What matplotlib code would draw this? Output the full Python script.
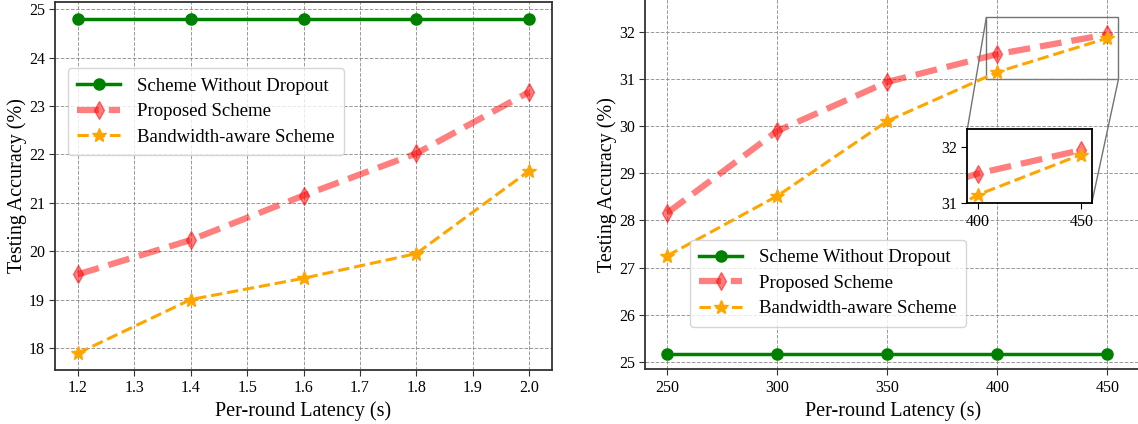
import numpy as np
import matplotlib
matplotlib.use("Agg")
import matplotlib.pyplot as plt
from mpl_toolkits.axes_grid1.inset_locator import mark_inset

plt.rcParams['font.family'] = ['Liberation Serif', 'DejaVu Serif']
plt.rcParams['mathtext.fontset'] = 'stix'

# left panel data
lat_left = [1.2, 1.4, 1.6, 1.8, 2.0]
nodrop_left = [24.8, 24.8, 24.8, 24.8, 24.8]
proposed_left = [19.52, 20.23, 21.15, 22.02, 23.29]
bw_left = [17.89, 19.0, 19.44, 19.95, 21.66]

# right panel data
lat_right = [250, 300, 350, 400, 450]
nodrop_right = [25.16, 25.16, 25.16, 25.16, 25.16]
proposed_right = [28.16, 29.9, 30.94, 31.53, 31.95]
bw_right = [27.25, 28.52, 30.11, 31.15, 31.87]

labels = ["Scheme Without Dropout", "Proposed Scheme", "Bandwidth-aware Scheme"]

W, H = 1138, 424
fig = plt.figure(figsize=(W / 100, H / 100), dpi=100)


def px(x0, y0, x1, y1):
    # pixel box -> figure fraction
    return [x0 / W, 1 - y1 / H, (x1 - x0) / W, (y1 - y0) / H]


def draw(ax, x, a, b, c):
    ax.plot(x, a, color='green', marker='o', lw=2.5, ms=8, label=labels[0])
    ax.plot(x, b, color='red', alpha=0.5, ls='--', lw=4.5, marker='d', ms=9,
            dashes=(3.5, 1.6), label=labels[1])
    ax.plot(x, c, color='orange', ls='--', lw=2.2, marker='*', ms=10, label=labels[2])


def style(ax):
    ax.grid(True, ls='--', color='gray', lw=0.7, alpha=0.8)
    for s in ax.spines.values():
        s.set_color('#333333')
        s.set_linewidth(1.3)
    ax.tick_params(labelsize=11.5, length=4, color='#333333')
    ax.set_xlabel("Per-round Latency (s)", fontsize=14.5)
    ax.set_ylabel("Testing Accuracy (%)", fontsize=14.5, labelpad=1)


def leg(ax, anchor):
    ax.legend(loc='upper left', bbox_to_anchor=anchor, borderaxespad=0,
              fontsize=13.5, handlelength=2.3, handletextpad=0.9, framealpha=0.8,
              edgecolor='#cccccc', labelspacing=0.45, borderpad=0.5)


ax1 = fig.add_axes(px(55.3, 2, 551.7, 369.7))
draw(ax1, lat_left, nodrop_left, proposed_left, bw_left)
style(ax1)
ax1.set_xlim(1.16, 2.04)
ax1.set_ylim(17.55, 25.15)
leg(ax1, (0.025, 0.82))

ax2 = fig.add_axes(px(645.3, -1, 1140.5, 369.3))
draw(ax2, lat_right, nodrop_right, proposed_right, bw_right)
style(ax2)
ax2.set_xticks(lat_right)
ax2.set_xlim(240, 465)
ax2.set_ylim(24.84, 32.7)
leg(ax2, (0.09, 0.35))

axins = fig.add_axes(px(967.3, 129.3, 1091.7, 203.3))
draw(axins, lat_right, nodrop_right, proposed_right, bw_right)
axins.set_xlim(395, 455)
axins.set_ylim(31, 32.32)
axins.set_xticks([400, 450])
axins.set_yticks([31, 32])
axins.tick_params(labelsize=11.5, length=4)
for s in axins.spines.values():
    s.set_linewidth(1.3)
mark_inset(ax2, axins, loc1=2, loc2=4, fc='none', ec='0.45', lw=1)

fig.savefig("out.png", dpi=100)
